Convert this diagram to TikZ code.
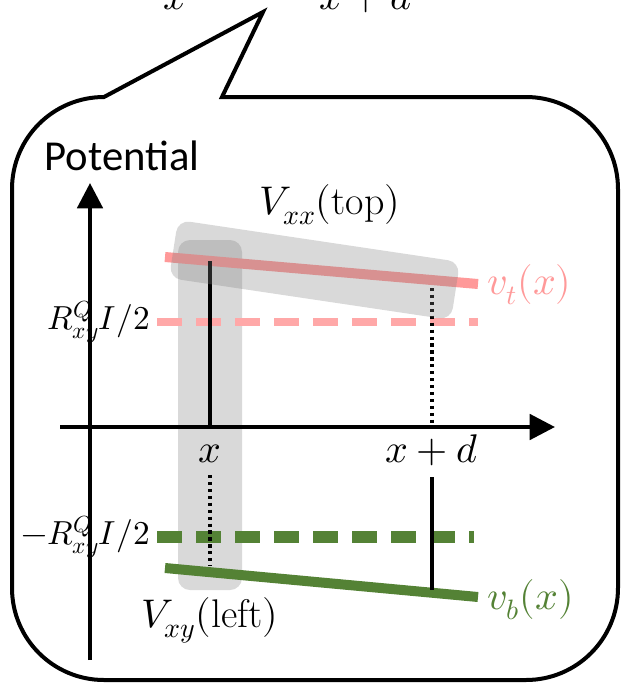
\documentclass[tikz,border=0pt]{standalone}
\usepackage{fontspec,unicode-math}
\setmathfont{Latin Modern Math}
\newfontfamily\calib{Carlito}
\usetikzlibrary{arrows.meta,calc}
\definecolor{pinkv}{HTML}{FF9999}
\definecolor{greenv}{HTML}{548235}
\tikzset{
  axisline/.style={line width=3pt,-{Triangle[width=19pt,length=19pt]}},
  band/.style={fill=black!50,fill opacity=.3,rounded corners=9pt},
  tick/.style={line width=2.7pt},
  dots/.style={line width=2.7pt,dash pattern=on 2.4pt off 2.8pt},
  lbl/.style={font=\fontsize{30}{36}\selectfont,inner sep=0pt},
  lvl/.style={font=\fontsize{25}{30}\selectfont,inner sep=0pt,anchor=east}
}
\begin{document}
\begin{tikzpicture}[x=0.75pt,y=-0.75pt]
\useasboundingbox (0,0) rectangle (623,683);
% speech bubble
\draw[line width=3pt] (104,97)--(263,12)--(222,97)--(526,97) arc[start angle=-90,end angle=0,radius=92]--(618,588) arc[start angle=0,end angle=90,radius=92]--(104,680) arc[start angle=90,end angle=180,radius=92]--(12,189) arc[start angle=180,end angle=270,radius=92]--cycle;
\node[lbl,anchor=base] (xtop) at (175,9){$x$};\node[lbl,anchor=base] (xdtop) at (366,9){$x+d$};
% axes
\fill[band] (178,240) rectangle (242,590);
\draw[axisline] (90,660)--(90,183);\draw[axisline] (60,427)--(555,427);
\node[font=\calib\fontsize{32}{38}\selectfont,inner sep=0pt] (pot) at (122,156){Potential};
% potentials
\coordinate (vtL) at (165,257);\coordinate (vtR) at (478,284);
\coordinate (vbL) at (165,568);\coordinate (vbR) at (478,597);
\draw[pinkv,line width=7.5pt] (vtL)--(vtR);\draw[greenv,line width=7.5pt] (vbL)--(vbR);
\draw[pinkv!85,line width=6pt,dash pattern=on 18.75pt off 10.5pt] (157,322)--(478,322);
\draw[greenv,line width=9.5pt,dash pattern=on 18.75pt off 10.5pt] (157,537)--(474,537);
\draw[tick] (210,261)--(210,425);\draw[dots] (210,475)--(210,566);
\draw[dots] (432,288)--(432,425);\draw[tick] (432,477)--(432,590);
\fill[band] (178,220)--(460,262)--(451,320)--(169,278)--cycle;
% labels
\node[lbl,anchor=base] (xa) at (210,462){$x$};\node[lbl,anchor=base] (xb) at (432,462){$x+d$};
\node[lvl] (rp) at (150,322){$R^Q_{xy}I/2$};\node[lvl] (rm) at (150,537){$-R^Q_{xy}I/2$};
\node[lbl,text=pinkv,anchor=west] (vt) at (487,285){$v_t(x)$};\node[lbl,text=greenv,anchor=west] (vb) at (487,600){$v_b(x)$};
\node[lbl] (vxx) at (330,205){$V_{xx}(\mathrm{top})$};\node[lbl] (vxy) at (210,620){$V_{xy}(\mathrm{left})$};
\end{tikzpicture}
\end{document}
